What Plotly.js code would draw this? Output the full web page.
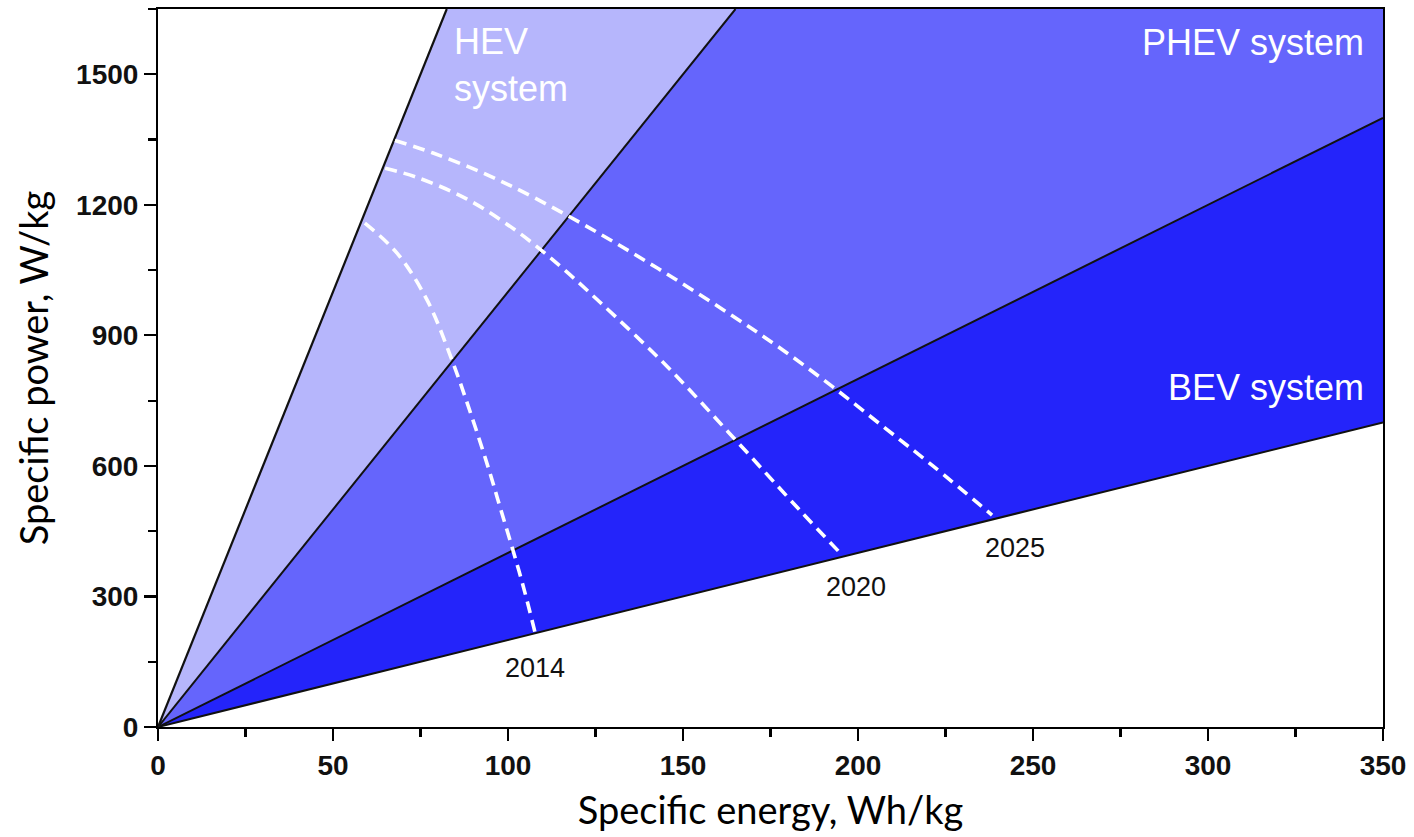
<!DOCTYPE html>
<html>
<head>
<meta charset="utf-8">
<script src="https://cdn.plot.ly/plotly-3.0.1.min.js"></script>
<style>
html,body{margin:0;padding:0;background:#fff;}
#chart{width:1414px;height:837px;}
</style>
</head>
<body>
<div id="chart"></div>
<script>
// Axis ranges
const xRange = [0, 350];
const yRange = [0, 1650];

// Boundary lines: specific power / specific energy ratios (W/Wh)
const boundarySlopes = [20, 10, 4, 2];
const regionNames = ["HEV system", "PHEV system", "BEV system"];
const regionColors = ["#b6b6fc", "#6565fc", "#2424fa"];

// Dashed technology curves (specific energy Wh/kg, specific power W/kg)
const curve2014_x = [59.1, 68.3, 76.9, 84.0, 89.7, 94.6, 98.0, 101.4, 104.8, 107.7];
const curve2014_y = [1158, 1089, 981, 843, 712, 590, 498, 407, 310, 218];

const curve2020_x = [64.9, 74.0, 88.3, 102.6, 114.9, 126.3, 145.4, 164.3, 183.4, 194.9];
const curve2020_y = [1284, 1263, 1213, 1139, 1059, 976, 829, 666, 498, 400];

const curve2025_x = [67.7, 78.6, 92.9, 107.1, 126.3, 145.4, 164.3, 178.6, 192.9, 207.1, 221.4, 238.3];
const curve2025_y = [1348, 1319, 1273, 1218, 1133, 1041, 944, 866, 781, 691, 600, 487];

const yearLabels = ["2014", "2020", "2025"];
const yearLabel_x = [107.7, 199.4, 244.9];
const yearLabel_y = [135, 321, 411];

// Helper: end point of ray y = s*x clipped to the plot box
function rayEnd(s) {
  const xAtTop = yRange[1] / s;
  if (xAtTop <= xRange[1]) return [xAtTop, yRange[1]];
  return [xRange[1], s * xRange[1]];
}

const traces = [];

// Filled regions between consecutive boundaries
for (let i = 0; i < boundarySlopes.length - 1; i++) {
  const a = rayEnd(boundarySlopes[i]);
  const b = rayEnd(boundarySlopes[i + 1]);
  const xs = [0, a[0]];
  const ys = [0, a[1]];
  if (a[1] === yRange[1] && b[0] === xRange[1] && b[1] < yRange[1]) {
    xs.push(xRange[1]); ys.push(yRange[1]);
  }
  xs.push(b[0], 0); ys.push(b[1], 0);
  traces.push({
    type: "scatter", mode: "lines", x: xs, y: ys,
    fill: "toself", fillcolor: regionColors[i],
    line: { width: 0 }, hoverinfo: "skip", showlegend: false,
    name: regionNames[i]
  });
}

// Black boundary lines
boundarySlopes.forEach((s, i) => {
  const e = rayEnd(s);
  traces.push({
    type: "scatter", mode: "lines", x: [0, e[0]], y: [0, e[1]],
    line: { color: "#111", width: i === 0 ? 2.2 : 2 },
    hoverinfo: "skip", showlegend: false
  });
});

// Dashed white curves
[[curve2014_x, curve2014_y], [curve2020_x, curve2020_y], [curve2025_x, curve2025_y]].forEach((c, i) => {
  traces.push({
    type: "scatter", mode: "lines", x: c[0], y: c[1],
    line: { color: "#ffffff", width: 3.6, dash: "12px,7px", shape: "spline", smoothing: 1 },
    hoverinfo: "skip", showlegend: false, name: yearLabels[i]
  });
});

const annotations = [];
annotations.push({ x: 84, y: 1521, xref: "x", yref: "y", text: "HEV<br>system", showarrow: false,
  xanchor: "left", yanchor: "middle", align: "left",
  font: { family: "Liberation Sans, Arial, sans-serif", size: 36, color: "#ffffff" } });
annotations.push({ x: 345, y: 1574, xref: "x", yref: "y", text: "PHEV system", showarrow: false,
  xanchor: "right", yanchor: "middle",
  font: { family: "Liberation Sans, Arial, sans-serif", size: 36, color: "#ffffff" } });
annotations.push({ x: 345, y: 781, xref: "x", yref: "y", text: "BEV system", showarrow: false,
  xanchor: "right", yanchor: "middle",
  font: { family: "Liberation Sans, Arial, sans-serif", size: 36, color: "#ffffff" } });
yearLabels.forEach((t, i) => {
  annotations.push({ x: yearLabel_x[i], y: yearLabel_y[i], xref: "x", yref: "y", text: t, showarrow: false,
    xanchor: "center", yanchor: "middle",
    font: { family: "Liberation Sans, Arial, sans-serif", size: 27, color: "#111" } });
});

const axisCommon = {
  showgrid: false, zeroline: false,
  showline: true, linecolor: "#000", linewidth: 2, mirror: true,
  ticks: "outside", ticklen: 12, tickwidth: 2.2, tickcolor: "#000",
  tickfont: { family: "Liberation Sans, Arial, sans-serif", size: 28, color: "#111", weight: "bold" }
};

const layout = {
  width: 1414, height: 837,
  margin: { l: 158, r: 31, t: 9, b: 110 },
  paper_bgcolor: "#ffffff", plot_bgcolor: "#ffffff",
  showlegend: false,
  xaxis: Object.assign({}, axisCommon, {
    range: xRange, dtick: 50, tick0: 0,
    minor: { dtick: 25, ticks: "outside", ticklen: 8, tickwidth: 2.2, tickcolor: "#000", showgrid: false },
    title: { text: "Specific energy, Wh/kg", standoff: 18,
      font: { family: "Lato, sans-serif", size: 38, color: "#000" } }
  }),
  yaxis: Object.assign({}, axisCommon, {
    range: yRange, dtick: 300, tick0: 0,
    minor: { dtick: 150, ticks: "outside", ticklen: 8, tickwidth: 2.2, tickcolor: "#000", showgrid: false },
    title: { text: "Specific power, W/kg", standoff: 16,
      font: { family: "Lato, sans-serif", size: 38, color: "#000" } }
  }),
  annotations: annotations
};

Plotly.newPlot("chart", traces, layout, { staticPlot: true, displayModeBar: false });
</script>
</body>
</html>
